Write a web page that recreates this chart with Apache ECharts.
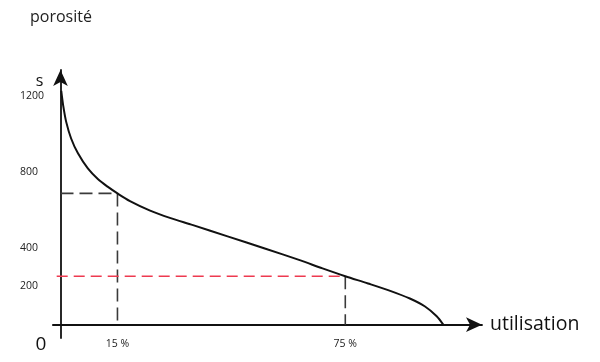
<!DOCTYPE html>
<html><head><meta charset="utf-8">
<script src="https://cdn.jsdelivr.net/npm/echarts@6/dist/echarts.min.js"></script>
<style>html,body{margin:0;padding:0;background:#fff}#c{width:600px;height:362px}</style>
</head><body><div id="c"></div>
<script>
// Data
var curveX = [0.2, 0.7, 1.5, 2.8, 4.6, 7.2, 9.9, 12.5, 15, 18.3, 23.6, 28.8, 34.9, 44, 54, 63, 69, 75, 81, 87, 92, 96, 99, 100.8];
var curveY = [1225, 1150, 1063, 976, 898, 819, 762, 722, 688, 648, 598, 560, 522, 463, 398, 338, 295, 254, 216, 176, 137, 95, 45, 0];
var yTickValues = [200, 400, 800, 1200];
var xTickValues = [0, 15, 75];
var xTickLabels = ['0', '15 %', '75 %'];
var mark15 = { x: 15, y: 688 };
var mark75 = { x: 75, y: 254 };
var redStartX = -1;

var chart = echarts.init(document.getElementById('c'), null, { renderer: 'canvas' });
var font = 'Open Sans, Lato, sans-serif';
var curve = curveX.map(function (x, i) { return [x, curveY[i]]; });

chart.setOption({
  animation: false,
  title: { text: 'porosité', left: 25, top: 4, textStyle: { fontFamily: font, fontSize: 16, fontWeight: 'normal', color: '#222' } },
  grid: { left: 52.9, right: 118, top: 70, bottom: 24, containLabel: false },
  xAxis: {
    type: 'value', min: -2, max: 111,
    axisLine: { onZero: true, symbol: ['none', 'arrow'], symbolSize: [11, 16], lineStyle: { color: '#111', width: 1.8 } },
    axisTick: { show: false }, splitLine: { show: false },
    name: 'utilisation', nameLocation: 'end', nameGap: 8,
    nameTextStyle: { fontFamily: font, fontSize: 19.5, color: '#111', verticalAlign: 'middle' },
    axisLabel: {
      customValues: xTickValues, margin: 1, fontFamily: font, fontSize: 10.5, color: '#222',
      formatter: function (v) { var i = xTickValues.indexOf(v); return v === 0 ? '{z|' + xTickLabels[i] + '}' : xTickLabels[i]; },
      rich: { z: { fontFamily: font, fontSize: 19, lineHeight: 12, color: '#111', padding: [0, 39, 0, 0] } }
    }
  },
  yAxis: {
    type: 'value', min: -70, max: 1335,
    axisLine: { onZero: true, symbol: ['none', 'arrow'], symbolSize: [11, 16], lineStyle: { color: '#111', width: 1.8 } },
    axisTick: { show: false }, splitLine: { show: false },
    name: 's', nameLocation: 'end', nameGap: -11,
    nameTextStyle: { fontFamily: font, fontSize: 16, color: '#111', align: 'right', verticalAlign: 'middle', padding: [0, 17, 0, 0] },
    axisLabel: { customValues: yTickValues, align: 'left', margin: 33, fontFamily: font, fontSize: 10.5, color: '#222',
      formatter: function (v) { return String(v); } }
  },
  series: [
    { type: 'line', data: [[0, mark15.y], [mark15.x, mark15.y], [mark15.x, 0]], symbol: 'none', silent: true,
      lineStyle: { color: '#3a3a3a', width: 1.6, type: [13, 6] }, z: 2 },
    { type: 'line', data: [[redStartX, mark75.y], [mark75.x, mark75.y]], symbol: 'none', silent: true,
      lineStyle: { color: '#ee3a50', width: 1.4, type: [11, 6] }, z: 2 },
    { type: 'line', data: [[mark75.x, mark75.y], [mark75.x, 0]], symbol: 'none', silent: true,
      lineStyle: { color: '#3a3a3a', width: 1.6, type: [13, 6] }, z: 2 },
    { type: 'line', data: curve, symbol: 'none', smooth: 0.3, silent: true,
      lineStyle: { color: '#111', width: 2 }, z: 3 }
  ]
});
</script></body></html>
